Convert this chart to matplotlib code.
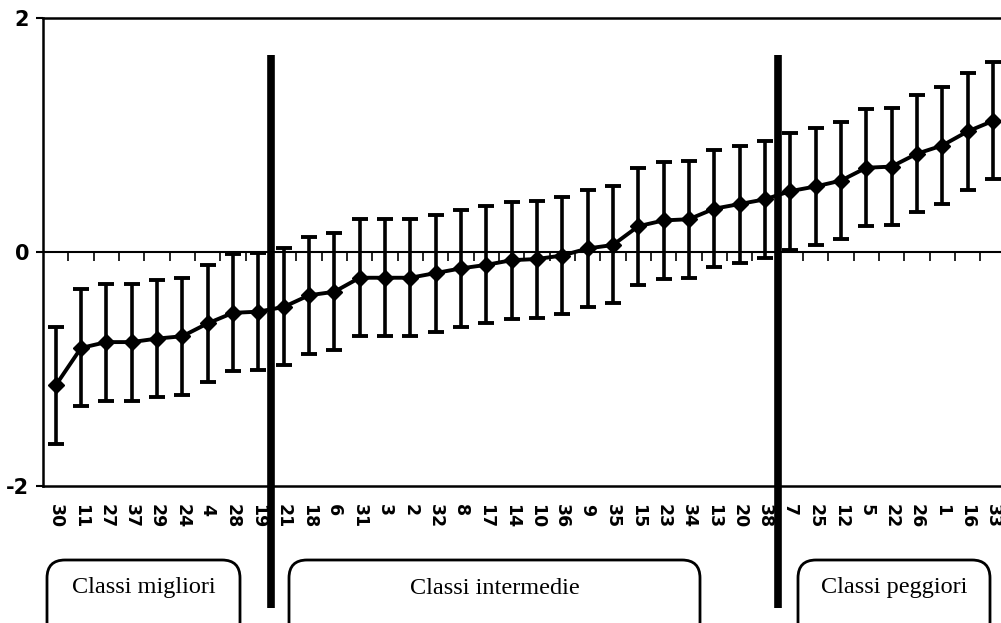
import numpy as np
import matplotlib
matplotlib.use("Agg")
import matplotlib.pyplot as plt
from matplotlib.patches import FancyBboxPatch

plt.rcParams['axes.unicode_minus'] = False

# class ids in ranking order, with mean score and error half-width
classi = ['30', '11', '27', '37', '29', '24', '4', '28', '19', '21', '18', '6', '31',
          '3', '2', '32', '8', '17', '14', '10', '36', '9', '35', '15', '23', '34',
          '13', '20', '38', '7', '25', '12', '5', '22', '26', '1', '16', '33']
media = [-1.14, -0.82, -0.77, -0.77, -0.74, -0.72, -0.61, -0.52, -0.51, -0.47,
         -0.37, -0.34, -0.22, -0.22, -0.22, -0.18, -0.14, -0.11, -0.07, -0.06,
         -0.03, 0.03, 0.06, 0.22, 0.27, 0.28, 0.37, 0.41, 0.45, 0.52, 0.56,
         0.61, 0.72, 0.73, 0.84, 0.91, 1.03, 1.12]
errore = 0.5
# last "migliori" and last "intermedie" position
confini = [8, 28]
gruppi = ['Classi migliori', 'Classi intermedie', 'Classi peggiori']

n = len(classi)
x = np.arange(n)

fig = plt.figure(figsize=(10.01, 6.23), dpi=100)
ax = fig.add_axes([0.043, 0.2199, 0.9615, 0.7512])

ax.errorbar(x, media, yerr=errore, color='black', lw=2.8, marker='D', ms=8.5,
            elinewidth=2.6, capsize=6, capthick=2.8, zorder=3)

ax.axhline(0, color='black', lw=1.5, zorder=2)
ax.vlines(x[:-1] + 0.5, -0.075, 0, color='black', lw=1.2, zorder=2)

for c in confini:
    ax.plot([c + 0.5, c + 0.5], [1.68, -3.04], color='black', lw=5.5,
            clip_on=False, solid_capstyle='butt', zorder=4)

ax.set_xlim(-0.5, n - 0.5)
ax.set_ylim(-2, 2)
ax.set_yticks([-2, 0, 2])
ax.set_yticklabels(['-2', '0', '2'], fontweight='bold', fontsize=15)
ax.tick_params(axis='y', length=5, width=1.5, pad=5)
ax.set_xticks(x)
ax.set_xticklabels(classi, rotation=-90, fontweight='heavy', fontsize=12.5)
ax.tick_params(axis='x', length=0, pad=13)

for s in ['left', 'top', 'bottom']:
    ax.spines[s].set_linewidth(1.8)
ax.spines['right'].set_visible(False)

# group boxes under the labels
box_x = [(47, 240), (289, 700), (798, 990)]
for (x0, x1), testo in zip(box_x, gruppi):
    fx0, fx1 = x0 / 1001, x1 / 1001
    fy0, fy1 = (623 - 640) / 623, (623 - 560) / 623
    box = FancyBboxPatch((fx0, fy0), fx1 - fx0, fy1 - fy0,
                         boxstyle='round,pad=0,rounding_size=0.018',
                         transform=fig.transFigure, fill=False,
                         edgecolor='black', lw=2, mutation_aspect=1.6)
    fig.patches.append(box)
    fig.text((fx0 + fx1) / 2, (623 - 588) / 623, testo, ha='center', va='center',
             fontsize=17.5, family='Liberation Serif')

fig.savefig('out.png', dpi=100)
